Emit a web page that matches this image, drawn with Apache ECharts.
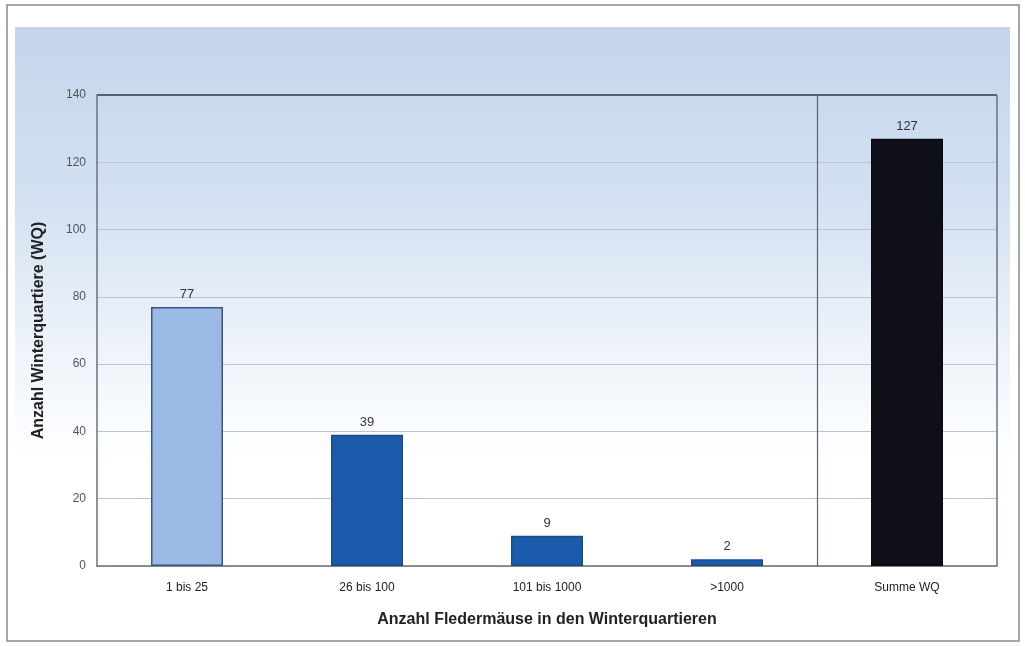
<!DOCTYPE html>
<html>
<head>
<meta charset="utf-8">
<script src="https://cdn.jsdelivr.net/npm/echarts@6/dist/echarts.min.js"></script>
<style>html,body{margin:0;padding:0;background:#fff}#c{width:1025px;height:646px}</style>
</head>
<body>
<div id="c"></div>
<script>
const categories = ['1 bis 25', '26 bis 100', '101 bis 1000', '>1000', 'Summe WQ'];
const values = [77, 39, 9, 2, 127];
const barColors = ['#9ab9e4', '#1c5bab', '#1c5bab', '#1c5bab', '#0e0f18'];
const borderColors = ['#3b5684', '#1a4c8c', '#1a4c8c', '#1a4c8c', '#0a0a10'];
const yTitle = 'Anzahl Winterquartiere (WQ)';
const xTitle = 'Anzahl Fledermäuse in den Winterquartieren';
const separatorAt = categories.length - 1;

const chart = echarts.init(document.getElementById('c'));
const font = 'Liberation Sans, Arial, sans-serif';
chart.setOption({
  animation: false,
  backgroundColor: '#fff',
  graphic: [
    { type: 'rect', z: -10, shape: { x: 7, y: 5, width: 1012, height: 636 },
      style: { fill: '#fff', stroke: '#8a8a8a', lineWidth: 1.5 } },
    { type: 'rect', z: -9, shape: { x: 15, y: 27, width: 995, height: 580 },
      style: { fill: new echarts.graphic.LinearGradient(0, 0, 0, 1, [
        { offset: 0, color: '#c4d5ec' },
        { offset: 0.3, color: '#d3e1f2' },
        { offset: 0.55, color: '#eef3fa' },
        { offset: 0.75, color: '#ffffff' },
        { offset: 1, color: '#ffffff' }
      ]) } },
    { type: 'line', z: 10, shape: { x1: 97, y1: 95, x2: 997, y2: 95 },
      style: { stroke: '#5a6270', lineWidth: 2 } },
    { type: 'line', z: 10, shape: { x1: 997, y1: 95, x2: 997, y2: 566 },
      style: { stroke: '#6a7280', lineWidth: 1.5 } }
  ],
  grid: { left: 97, right: 28, top: 95, bottom: 80, containLabel: false },
  xAxis: [{
    type: 'category',
    data: categories,
    name: xTitle,
    nameLocation: 'middle',
    nameGap: 46,
    nameTextStyle: { fontFamily: font, fontSize: 16, fontWeight: 'bold', color: '#222' },
    axisLine: { show: true, lineStyle: { color: '#707070', width: 1.5 } },
    axisTick: { show: false },
    axisLabel: { fontFamily: font, fontSize: 12, color: '#222', margin: 16 },
    splitLine: { show: false }
  }, {
    type: 'value', min: 0, max: categories.length, show: false
  }],
  yAxis: {
    type: 'value',
    min: 0, max: 140, interval: 20,
    name: yTitle,
    nameLocation: 'middle',
    nameGap: 50,
    nameTextStyle: { fontFamily: font, fontSize: 16, fontWeight: 'bold', color: '#222' },
    axisLine: { show: true, lineStyle: { color: '#6a7280', width: 1.5 } },
    axisTick: { show: false },
    axisLabel: { fontFamily: font, fontSize: 12, color: '#555', margin: 11 },
    splitLine: { show: true, lineStyle: { color: '#b8c4d2', width: 1 } }
  },
  series: [{
    type: 'bar',
    barWidth: '40%',
    data: values.map((v, i) => ({
      value: v,
      itemStyle: { color: barColors[i], borderColor: borderColors[i], borderWidth: 1.5 }
    })),
    label: { show: true, position: 'top', distance: 6, fontFamily: font, fontSize: 13, color: '#333' }
  }, {
    type: 'line',
    xAxisIndex: 1,
    data: [],
    markLine: {
      silent: true,
      symbol: 'none',
      label: { show: false },
      lineStyle: { color: '#5a6270', width: 1.2, type: 'solid' },
      data: [{ xAxis: separatorAt }]
    }
  }]
});
</script>
</body>
</html>
